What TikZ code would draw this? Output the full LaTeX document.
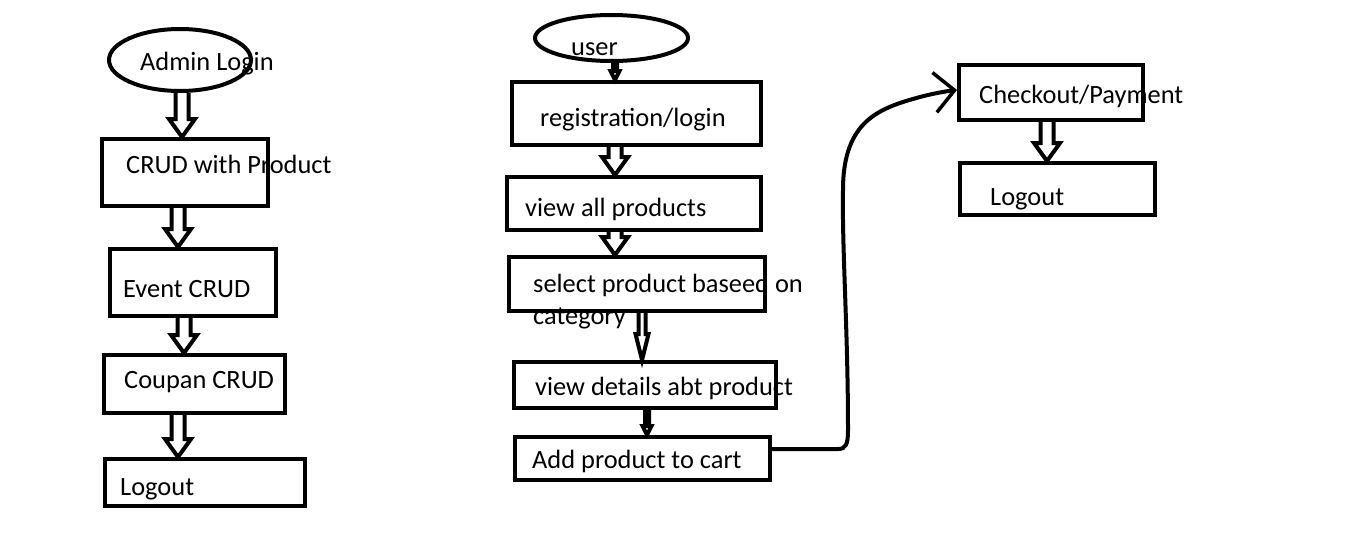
\documentclass[tikz,border=0pt]{standalone}
\usepackage{fontspec}
\setmainfont{Carlito}
\usetikzlibrary{arrows.meta,calc,shapes.geometric}
\newcommand\diagfont{\fontsize{26.4}{32}\selectfont}
\tikzset{
  box/.style={draw,rectangle,line width=4pt,inner sep=0pt},
  oval/.style={draw,ellipse,line width=4pt,inner sep=0pt},
  lbl/.style={anchor=base west,inner sep=0pt,font=\diagfont},
  harrow/.style n args={3}{line width=4pt,line join=miter,to path={
      ($(\tikztotarget|-\tikztostart)+(-#1,0)$) -- ($(\tikztotarget)+(-#1,-#3)$)
      -- ($(\tikztotarget)+(-#2,-#3)$) -- (\tikztotarget)
      -- ($(\tikztotarget)+(#2,-#3)$) -- ($(\tikztotarget)+(#1,-#3)$)
      -- ($(\tikztotarget|-\tikztostart)+(#1,0)$)}},
  hollow/.style={harrow={6.5}{13}{18}},
  thin hollow/.style={harrow={3.5}{6.5}{26}},
  slim/.style={harrow={2}{4.5}{9}},
}
\begin{document}
\begin{tikzpicture}[x=1pt,y=-1pt]
  \fill[white] (0,0) rectangle (1353,557);
  \useasboundingbox (0,0) rectangle (1353,557);
  % admin side
  \node[oval,minimum width=142,minimum height=62] (adm) at (180,60) {};
  \node[box,minimum width=166,minimum height=67] (crud) at (185,172.5) {};
  \node[box,minimum width=166,minimum height=67] (evt) at (193,282.5) {};
  \node[box,minimum width=181,minimum height=58] (cpn) at (194.5,384) {};
  \node[box,minimum width=200,minimum height=47] (lgA) at (205,482.5) {};
  \node[lbl] (tAdm) at (140,70) {Admin Login};
  \node[lbl] (tCrud) at (126,173) {CRUD with Product};
  \node[lbl] (tEvt) at (123,297) {Event CRUD};
  \node[lbl] (tCpn) at (124,388) {Coupan CRUD};
  \node[lbl] (tLgA) at (120,495) {Logout};
  \draw[hollow] (adm.south) to ([xshift=-3pt]crud.north);
  \draw[hollow] (crud.south) to ([xshift=-15pt]evt.north);
  \draw[hollow] (evt.south) to ([xshift=-10.5pt]cpn.north);
  \draw[hollow] (cpn.south) to ([xshift=-27pt]lgA.north);
  % user side
  \node[oval,minimum width=153,minimum height=46] (usr) at (611.5,38) {};
  \node[box,minimum width=249,minimum height=63] (reg) at (636.5,113.5) {};
  \node[box,minimum width=254,minimum height=53] (all) at (634,203.5) {};
  \node[box,minimum width=256,minimum height=54] (sel) at (637,284) {};
  \node[box,minimum width=262,minimum height=46] (det) at (645,385) {};
  \node[box,minimum width=255,minimum height=43] (cart) at (642.5,458.5) {};
  \node[lbl] (tUsr) at (571,55) {user};
  \node[lbl] (tReg) at (540,126) {registration/login};
  \node[lbl] (tAll) at (525,216) {view all products};
  \node[lbl] (tSel) at (533,292) {select product baseed on};
  \node[lbl] (tCat) at (533,324) {category};
  \node[lbl] (tDet) at (535,395) {view details abt product};
  \node[lbl] (tCart) at (532,468) {Add product to cart};
  \draw[slim] (usr.south) to ([xshift=-21.5pt]reg.north);
  \draw[hollow] (reg.south) to ([xshift=-19pt]all.north);
  \draw[hollow] (all.south) to ([xshift=-22pt]sel.north);
  \draw[thin hollow] (sel.south) to ([xshift=-3pt]det.north);
  \draw[slim] (det.south) to ([xshift=4.5pt]cart.north);
  % checkout
  \node[box,minimum width=184,minimum height=55] (chk) at (1051,92.5) {};
  \node[box,minimum width=195,minimum height=52] (lgB) at (1057.5,189) {};
  \node[lbl] (tChk) at (979,103) {Checkout/Payment};
  \node[lbl] (tLgB) at (990,205) {Logout};
  \draw[hollow] (chk.south) to ([xshift=-10.5pt]lgB.north);
  % hand drawn link from cart to checkout
  \draw[line width=4pt,line cap=round,-{Straight Barb[length=20pt,width=40pt,line width=3.5pt]}]
    ([yshift=9.5pt]cart.east) -- (838,449)
    .. controls (846,449) and (848,444) .. (848,430)
    .. controls (848,330) and (842,250) .. (843,190)
    .. controls (843,120) and (880,108) .. (920,97)
    .. controls (935,93) and (948,91) .. ([yshift=2.5pt]chk.west);
\end{tikzpicture}
\end{document}
